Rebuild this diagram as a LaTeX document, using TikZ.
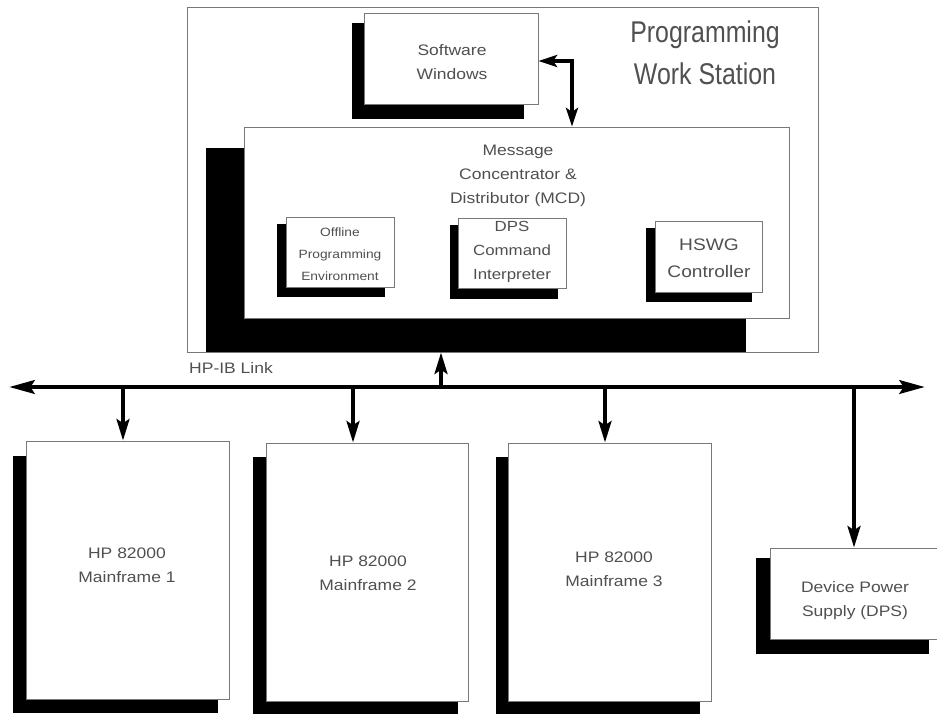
\documentclass[tikz,border=0pt]{standalone}
\usepackage{fontspec}
\setmainfont{Liberation Sans}[FakeStretch=1.15]
\newfontfamily\pwsfont{Liberation Sans}[FakeStretch=0.83]
\definecolor{hpgray}{RGB}{120,120,120}
\definecolor{hptext}{RGB}{80,80,80}
\usetikzlibrary{arrows.meta,fit,calc}

\begin{document}
\begin{tikzpicture}[x=0.75pt,y=-0.75pt,
  panel/.style={draw=hpgray,line width=0.6pt,fill=white,inner sep=0pt},
  shade/.style={fill=black},
  lbl/.style={text=hptext,align=center,font=\fontsize{11.4}{18}\selectfont},
  link/.style={line width=3.3pt,-{Stealth[length=16pt,width=9.5pt,inset=3pt]}},
  linkboth/.style={line width=3.2pt,{Stealth[length=14pt,width=9pt,inset=3pt]}-{Stealth[length=14pt,width=9pt,inset=3pt]}},
  bus/.style={line width=3.6pt,{Stealth[length=19pt,width=10pt,inset=3pt]}-{Stealth[length=19pt,width=10pt,inset=3pt]}}]
  \useasboundingbox (0,0) rectangle (937,715);
  \clip (0,0) rectangle (937,715);
  % Programming work station frame
  \node[draw=hpgray,line width=0.6pt,inner sep=0pt,fit={(187,7) (818,352)}] (pws) {};
  \node[text=hptext,align=center,font=\pwsfont\fontsize{22.5}{31.5}\selectfont] (pwstitle) at (705,53)
    {Programming\\Work Station};
  % Software windows
  \fill[shade] (352,23) rectangle (524,119);
  \node[panel,fit={(364,13) (538,104)}] (sw) {};
  \node[lbl] (swtext) at (452,62) {Software\\Windows};
  % Message concentrator and distributor
  \fill[shade] (206,148) rectangle (746,352);
  \node[panel,fit={(244,127) (789,318)}] (mcd) {};
  \node[lbl] (mcdtitle) at (518,176) {Message\\Concentrator \&\\Distributor (MCD)};
  % Modules inside the MCD
  \fill[shade] (277,224) rectangle (385,297);
  \node[panel,fit={(286,217) (394,287)}] (offline) {};
  \node[lbl,font=\fontsize{9}{16.5}\selectfont] (offtext) at (340,254)
    {Offline\\Programming\\Environment};
  \fill[shade] (450,225) rectangle (558,299);
  \node[panel,fit={(458,218) (566,288)}] (dpsci) {};
  \node[lbl,font=\fontsize{11}{18}\selectfont] (dpscitext) at (512,252)
    {DPS\\Command\\Interpreter};
  \fill[shade] (646,228) rectangle (752,302);
  \node[panel,fit={(655,221) (762,292)}] (hswg) {};
  \node[lbl,font=\fontsize{12.5}{20}\selectfont] (hswgtext) at (709,258)
    {HSWG\\Controller};
  % Mainframes
  \fill[shade] (13,456) rectangle (218,713);
  \node[panel,fit={(26,441) (229,699)}] (mf1) {};
  \node[lbl] (mf1text) at (127,565.5) {HP 82000\\Mainframe 1};
  \fill[shade] (253,457) rectangle (458,714);
  \node[panel,fit={(266,443) (468,701)}] (mf2) {};
  \node[lbl] (mf2text) at (368,573) {HP 82000\\Mainframe 2};
  \fill[shade] (496,457) rectangle (700,714);
  \node[panel,fit={(508,443) (711,701)}] (mf3) {};
  \node[lbl] (mf3text) at (614,569) {HP 82000\\Mainframe 3};
  % Device power supply
  \fill[shade] (756,558) rectangle (929,654);
  \node[panel,fit={(770,548) (940,639)}] (dps) {};
  \node[lbl] (dpstext) at (855,601) {Device Power\\Supply (DPS)};
  % HP-IB bus
  \coordinate (busL) at (9,387);
  \coordinate (busR) at (925,387);
  \draw[bus] (busL) -- (busR);
  \node[lbl] (hpib) at (231,368) {HP-IB Link};
  \foreach \name/\x in {tap1/123,tap2/353,tap3/605,tap4/854,tapup/441}
    \coordinate (\name) at (\x,387);
  \draw[link] (tap1) -- (tap1 |- mf1.north);
  \draw[link] (tap2) -- (tap2 |- mf2.north);
  \draw[link] (tap3) -- (tap3 |- mf3.north);
  \draw[link] (tap4) -- (tap4 |- dps.north);
  \draw[link] (tapup) -- (tapup |- pws.south);
  % Software windows <-> MCD
  \coordinate (swbend) at (572,61);
  \draw[linkboth] (sw.east |- swbend) -- (swbend) -- (swbend |- mcd.north);
\end{tikzpicture}
\end{document}
